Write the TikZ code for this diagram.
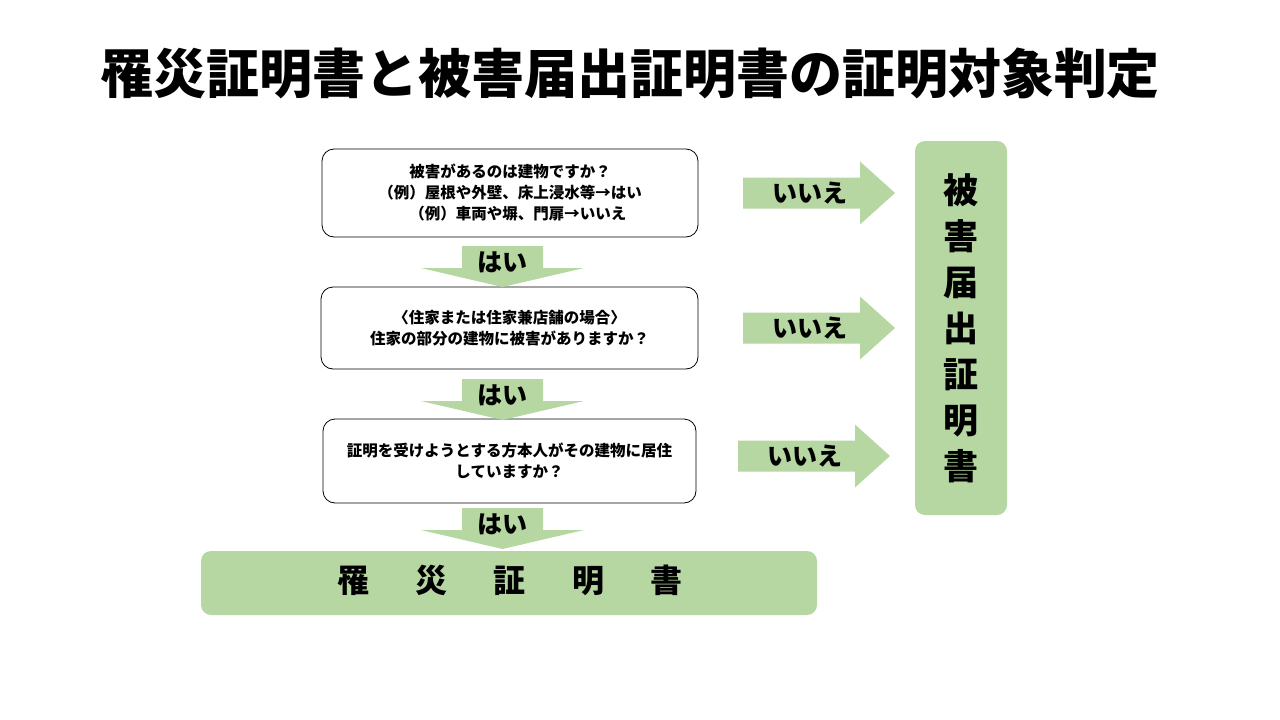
\documentclass[tikz,border=0pt]{standalone}
\usepackage{fontspec}
\setmainfont{Noto Sans CJK JP}
\definecolor{gr}{HTML}{B6D6A2}
\begin{document}
\begin{tikzpicture}[x=1pt,y=-1pt,font=\bfseries,
 qbox/.style={draw,rounded corners=12pt,line width=0.8pt,align=center,font=\bfseries\fontsize{15.5}{21}\selectfont},
 lab/.style={font=\bfseries\fontsize{25}{28}\selectfont}]
\useasboundingbox (0,0) rectangle (1280,720);
\node at (630,73) {\fontsize{53}{58}\selectfont\bfseries 罹災証明書と被害届出証明書の証明対象判定};
\node[qbox,minimum width=376pt,minimum height=88pt] (q1) at (510,193) {被害があるのは建物ですか？\\（例）屋根や外壁、床上浸水等→はい\\　（例）車両や塀、門扉→いいえ};
\node[qbox,minimum width=377pt,minimum height=82pt] (q2) at (509.5,328) {〈住家または住家兼店舗の場合〉\\住家の部分の建物に被害がありますか？};
\node[qbox,minimum width=373pt,minimum height=84pt] (q3) at (509.5,461) {証明を受けようとする方本人がその建物に居住\\していますか？};
\fill[gr,rounded corners=10pt] (915,141) rectangle (1007,515);
\node[font=\bfseries\fontsize{35}{46}\selectfont,align=center] (h) at (961,328) {被\\害\\届\\出\\証\\明\\書};
\fill[gr,rounded corners=10pt] (201,551) rectangle (817,615);
\node[font=\bfseries\fontsize{32}{34}\selectfont] (r) at (510,580) {罹\hspace{1.45em}災\hspace{1.45em}証\hspace{1.45em}明\hspace{1.45em}書};
% down arrows
\foreach \t/\n in {246/d1,379/d2,508/d3}{
 \fill[gr] (462,\t) -- (543,\t) -- (543,\t+22) -- (584,\t+22) -- (502.5,\t+41) -- (421,\t+22) -- (462,\t+22) -- cycle;
 \node[lab] (\n) at (502.5,\t+16) {はい};
}
% right arrows
\foreach \x/\y/\n in {743/193/r1,743/328/r2,738/456/r3}{
 \fill[gr] (\x,\y-15.5) -- (\x+117,\y-15.5) -- (\x+117,\y-31.5) -- (\x+152,\y) -- (\x+117,\y+31.5) -- (\x+117,\y+15.5) -- (\x,\y+15.5) -- cycle;
 \node[lab] (\n) at (\x+67,\y) {いいえ};
}
\end{tikzpicture}
\end{document}
